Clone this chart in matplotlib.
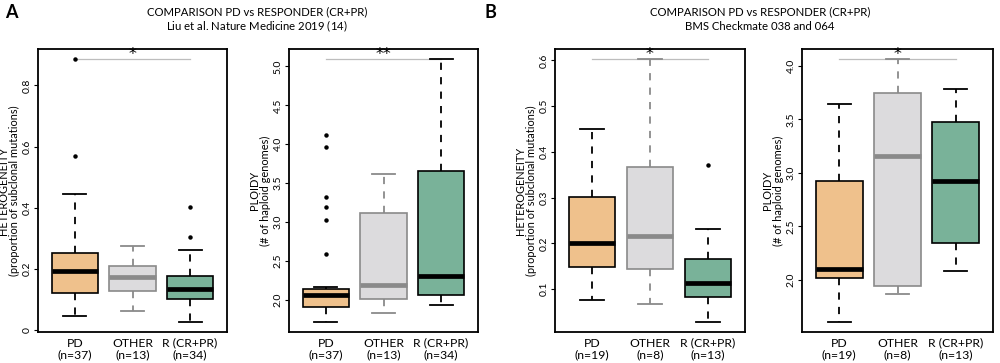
import numpy as np
import matplotlib
matplotlib.use("Agg")
import matplotlib.pyplot as plt

plt.rcParams['font.family'] = ['Lato', 'DejaVu Sans']
plt.rcParams['mathtext.fontset'] = 'custom'
plt.rcParams['mathtext.rm'] = 'Lato'
plt.rcParams['mathtext.it'] = 'Lato:italic'

groups = ["PD", "OTHER", "R (CR+PR)"]

# panel A: Liu et al. cohort
liu_n = [37, 13, 34]
liu_het = [  # whislo, q1, med, q3, whishi, fliers
    (0.044, 0.122, 0.191, 0.251, 0.445, [0.568, 0.885]),
    (0.062, 0.128, 0.172, 0.210, 0.273, []),
    (0.027, 0.102, 0.135, 0.177, 0.261, [0.303, 0.402]),
]
liu_ploidy = [
    (1.72, 1.905, 2.065, 2.14, 2.17, [2.59, 3.03, 3.19, 3.32, 3.96, 4.12]),
    (1.83, 2.01, 2.19, 3.12, 3.62, []),
    (1.935, 2.06, 2.30, 3.66, 5.09, []),
]
liu_stars = ["*", "**"]

# panel B: BMS Checkmate 038 and 064
bms_n = [19, 8, 13]
bms_het = [
    (0.077, 0.148, 0.200, 0.302, 0.451, []),
    (0.067, 0.144, 0.216, 0.367, 0.602, []),
    (0.029, 0.082, 0.113, 0.165, 0.231, [0.371]),
]
bms_ploidy = [
    (1.61, 2.016, 2.10, 2.92, 3.64, []),
    (1.87, 1.94, 3.16, 3.75, 4.06, []),
    (2.08, 2.34, 2.92, 3.48, 3.78, []),
]
bms_stars = ["*", "*"]

het_label = "HETEROGENEITY\n(proportion of subclonal mutations)"
ploidy_label = "PLOIDY\n(# of haploid genomes)"

fills = ["#EFC18C", "#DCDBDD", "#79B299"]
edges = ["black", "#8A8A8A", "black"]
meds = ["black", "#8A8A8A", "black"]


def draw(ax, stats, ns, ylabel, stars, yticks, ticklabels):
    lo_all = min(min([s[0]] + list(s[5])) for s in stats)
    hi_all = max(max([s[4]] + list(s[5])) for s in stats)
    for i, s in enumerate(stats):
        d = dict(whislo=s[0], q1=s[1], med=s[2], q3=s[3], whishi=s[4], fliers=s[5])
        ax.bxp([d], positions=[i + 1], widths=0.8, patch_artist=True,
               boxprops=dict(facecolor=fills[i], edgecolor=edges[i], linewidth=1.2),
               medianprops=dict(color=meds[i], linewidth=3.4, solid_capstyle='butt'),
               whiskerprops=dict(color=edges[i], linewidth=1.3, linestyle=(0, (4, 4))),
               capprops=dict(color=edges[i], linewidth=1.3),
               capwidths=0.4,
               flierprops=dict(marker='o', markersize=2.2, markerfacecolor='black',
                               markeredgecolor='black', linestyle='none'))
    span = hi_all - lo_all
    ax.set_ylim(lo_all - 0.04 * span, hi_all + 0.04 * span)
    ax.set_xlim(0.36, 3.64)
    # significance bar PD vs responder
    ax.plot([1, 3], [hi_all, hi_all], color="#BDBDBD", linewidth=0.9, zorder=0)
    ax.annotate(stars, (2, hi_all), xytext=(0, -1.5), textcoords='offset points',
                ha='center', va='bottom', fontsize=11.5, family='DejaVu Sans')
    ax.set_xticks([1, 2, 3])
    ax.set_xticklabels([f"{g}\n(n={n})" for g, n in zip(groups, ns)], fontsize=8.8,
                       linespacing=1.05)
    ax.tick_params(axis='x', length=0, pad=4)
    ax.set_yticks(yticks)
    ax.set_yticklabels(ticklabels, fontsize=7.5, rotation=90, va='center')
    ax.tick_params(axis='y', length=3, width=0.8, pad=1.5)
    ax.set_ylabel(ylabel, fontsize=7.9, linespacing=0.95)
    ax.yaxis.set_label_coords(-0.095, 0.5)
    for sp in ax.spines.values():
        sp.set_linewidth(1.3)


fig = plt.figure(figsize=(10, 3.63), dpi=100)
bot, hgt = 0.0854, 0.7796
ax1 = fig.add_axes([0.038, bot, 0.189, hgt])
ax2 = fig.add_axes([0.289, bot, 0.189, hgt])
ax3 = fig.add_axes([0.555, bot, 0.190, hgt])
ax4 = fig.add_axes([0.802, bot, 0.191, hgt])

draw(ax1, liu_het, liu_n, het_label, liu_stars[0],
     [0, 0.2, 0.4, 0.6, 0.8], ["0", "0.2", "0.4", "0.6", "0.8"])
draw(ax2, liu_ploidy, liu_n, ploidy_label, liu_stars[1],
     [2.0, 2.5, 3.0, 3.5, 4.0, 4.5, 5.0], ["2.0", "2.5", "3.0", "3.5", "4.0", "4.5", "5.0"])
draw(ax3, bms_het, bms_n, het_label, bms_stars[0],
     [0.1, 0.2, 0.3, 0.4, 0.5, 0.6], ["0.1", "0.2", "0.3", "0.4", "0.5", "0.6"])
draw(ax4, bms_ploidy, bms_n, ploidy_label, bms_stars[1],
     [2.0, 2.5, 3.0, 3.5, 4.0], ["2.0", "2.5", "3.0", "3.5", "4.0"])

fig.text(0.257, 0.968, "COMPARISON PD vs RESPONDER (CR+PR)", ha='center', va='center', fontsize=8.2)
fig.text(0.257, 0.928, "Liu et al. Nature Medicine 2019 ($\\mathit{14}$)", ha='center', va='center', fontsize=8.2)
fig.text(0.760, 0.968, "COMPARISON PD vs RESPONDER (CR+PR)", ha='center', va='center', fontsize=8.2)
fig.text(0.760, 0.928, "BMS Checkmate 038 and 064", ha='center', va='center', fontsize=8.2)
fig.text(0.005, 0.965, "A", fontsize=13, fontweight='bold', va='center')
fig.text(0.485, 0.965, "B", fontsize=13, fontweight='bold', va='center')

fig.savefig("out.png", dpi=100)
